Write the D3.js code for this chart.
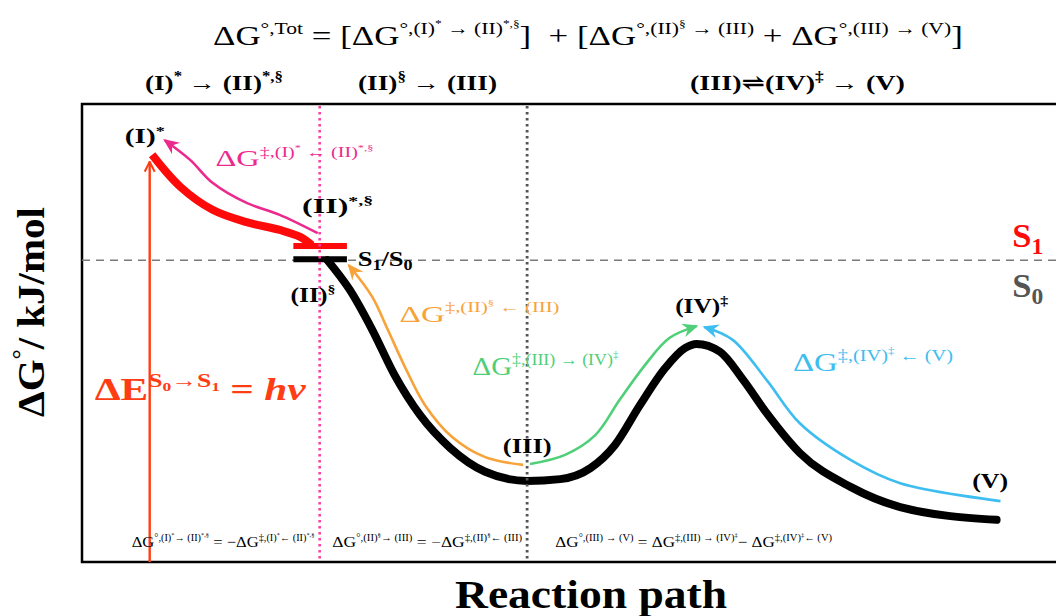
<!DOCTYPE html>
<html>
<head>
<meta charset="utf-8">
<script src="https://cdn.jsdelivr.net/npm/d3@7"></script>
<style>
  html, body { margin: 0; padding: 0; background: #fff; }
  svg text { font-family: "Liberation Serif", "DejaVu Serif", serif; white-space: pre; }
</style>
</head>
<body>
<div id="container"></div>
<script>
// Reaction coordinate (0-100) vs. free energy (arbitrary, 0-100)

// S1 (excited state) branch, from (I)* down to (II)*,§
const s1Curve = [[7.2, 88.9], [10.1, 81.9], [13.4, 76.9], [16.9, 74.2], [20.3, 72.5], [22.4, 71.0], [23.6, 69.2]];

// S0 (ground state) branch, from (II)§ through (III), (IV)‡ to (V)
const s0Curve = [
    [25.2, 65.9], [27.5, 59.4], [29.8, 50.7], [32.1, 40.8], [34.7, 32.1], [37.8, 24.9],
    [41.4, 19.7], [45.7, 17.7], [49.1, 18.1], [52.2, 20.5], [54.7, 25.5], [57.3, 34.3],
    [59.9, 42.4], [61.9, 46.7], [63.1, 47.6], [65.5, 45.9], [67.9, 39.7], [70.3, 32.5],
    [73.7, 23.8], [78.9, 16.4], [84.0, 12.0], [93.9, 9.2]
];

// barrier arrows (start -> tip)
const arrowBackS1 = [[24.2, 71.8], [20.3, 75.8], [16.9, 78.4], [13.4, 82.8], [11.1, 87.8], [8.5, 92.1]];
const arrowBackII = [[45.3, 21.2], [41.4, 22.9], [38.0, 27.3], [35.2, 34.3], [33.2, 42.4], [31.4, 50.7], [29.8, 57.9], [27.4, 64.8]];
const arrowFwdIII = [[46.0, 21.4], [49.6, 23.4], [52.7, 27.7], [55.2, 35.4], [57.8, 43.0], [60.3, 48.9], [63.1, 51.5]];
const arrowBackV = [[94.3, 13.3], [84.0, 17.2], [78.9, 22.3], [73.7, 30.3], [70.3, 39.7], [66.8, 48.5], [63.9, 51.3]];

// crossing point levels
const crossing = { x0: 21.7, x1: 27.2, s1: 69.0, s0: 66.1 };
const s0Level = 65.9;
const stageBounds = [24.4, 45.7];
const excitation = { x: 6.95, from: 0, to: 87.4 };

// text
const topFormula = "ΔG^{°,Tot} = [ΔG^{°,(I)^{*} → (II)^{*,§}}]  + [ΔG^{°,(II)^{§} → (III)} + ΔG^{°,(III) → (V)}]";
const stageTitles = ["(I)^{*} → (II)^{*,§}", "(II)^{§} → (III)", "(III)⇌(IV)^{‡} → (V)"];
const speciesLabels = ["(I)^{*}", "(II)^{*,§}", "S_{1}/S_{0}", "(II)^{§}", "(III)", "(IV)^{‡}", "(V)"];
const barrierLabels = [
    "ΔG^{‡,(I)^{*} ← (II)^{*,§}}",
    "ΔG^{‡,(II)^{§} ← (III)}",
    "ΔG^{‡,(III) → (IV)^{‡}}",
    "ΔG^{‡,(IV)^{‡} ← (V)}"
];
const relationLabels = [
    "ΔG^{°,(I)^{*}→ (II)^{*,§}} = −ΔG^{‡,(I)^{*}← (II)^{*,§}}",
    "ΔG^{°,(II)^{§}→ (III)} = −ΔG^{‡,(II)^{§}← (III)}",
    "ΔG^{°,(III) → (V)} = ΔG^{‡,(III) → (IV)^{‡}}− ΔG^{‡,(IV)^{‡}← (V)}"
];
const excitationLabel = "ΔE^{S_{0}→S_{1}} = ~{hν}";
const stateLabels = ["S_{1}", "S_{0}"];
const xTitle = "Reaction path";
const yTitle = "ΔG^{°}/ kJ/mol";

const width = 1056;
const height = 616;
const frame = { left: 82, top: 104, bottom: 562 };

const x = d3.scaleLinear().domain([0, 100]).range([frame.left, width]);
const y = d3.scaleLinear().domain([0, 100]).range([frame.bottom, frame.top]);

const svg = d3.select("#container").append("svg")
    .attr("width", width)
    .attr("height", height)
    .style("display", "block");

svg.append("rect").attr("width", width).attr("height", height).attr("fill", "#fff");

// ---------------------------------------------------------------------
// Markers
const defs = svg.append("defs");
function barbMarker(id, color) {
    defs.append("marker")
        .attr("id", id)
        .attr("markerUnits", "userSpaceOnUse")
        .attr("viewBox", "0 0 16 14")
        .attr("refX", 14).attr("refY", 7)
        .attr("markerWidth", 16).attr("markerHeight", 14)
        .attr("orient", "auto")
        .append("path")
        .attr("d", "M0,0 L16,7 L0,14 L5,7 Z")
        .attr("fill", color);
}
barbMarker("m-pink", "#ec2a8e");
barbMarker("m-orange", "#f8a23a");
barbMarker("m-green", "#4fcf78");
barbMarker("m-blue", "#3ebdf0");

defs.append("marker")
    .attr("id", "m-exc")
    .attr("markerUnits", "userSpaceOnUse")
    .attr("viewBox", "0 0 12 12")
    .attr("refX", 11).attr("refY", 6)
    .attr("markerWidth", 12).attr("markerHeight", 12)
    .attr("orient", "auto")
    .append("path")
    .attr("d", "M1,1 L11,6 L1,11")
    .attr("fill", "none")
    .attr("stroke", "#ff3d14")
    .attr("stroke-width", 2);

// ---------------------------------------------------------------------
// Frame and guide lines
svg.append("rect")
    .attr("x", frame.left).attr("y", frame.top)
    .attr("width", width + 20 - frame.left).attr("height", frame.bottom - frame.top)
    .attr("fill", "none").attr("stroke", "#000").attr("stroke-width", 2.5);

svg.append("line")
    .attr("x1", x(0)).attr("x2", x(100))
    .attr("y1", y(s0Level)).attr("y2", y(s0Level))
    .attr("stroke", "#7a7a7a").attr("stroke-width", 1.6)
    .attr("stroke-dasharray", "8,6");

const curve = d3.line()
    .x(d => x(d[0]))
    .y(d => y(d[1]))
    .curve(d3.curveCatmullRom.alpha(0.5));

const smooth = d3.line()
    .x(d => x(d[0]))
    .y(d => y(d[1]))
    .curve(d3.curveMonotoneX);

// excitation arrow
svg.append("line")
    .attr("x1", x(excitation.x)).attr("x2", x(excitation.x))
    .attr("y1", y(excitation.from)).attr("y2", y(excitation.to))
    .attr("stroke", "#ff3d14").attr("stroke-width", 2.4)
    .attr("marker-end", "url(#m-exc)");

// energy surfaces
svg.append("path").datum(s1Curve)
    .attr("d", curve).attr("fill", "none")
    .attr("stroke", "#ff0a0a").attr("stroke-width", 8).attr("stroke-linecap", "butt");

svg.append("path").datum(s0Curve)
    .attr("d", smooth).attr("fill", "none")
    .attr("stroke", "#000").attr("stroke-width", 8).attr("stroke-linecap", "round");

// crossing bars
svg.append("line")
    .attr("x1", x(crossing.x0)).attr("x2", x(crossing.x1))
    .attr("y1", y(crossing.s1)).attr("y2", y(crossing.s1))
    .attr("stroke", "#ff0a0a").attr("stroke-width", 6);
svg.append("line")
    .attr("x1", x(crossing.x0)).attr("x2", x(crossing.x1))
    .attr("y1", y(crossing.s0)).attr("y2", y(crossing.s0))
    .attr("stroke", "#000").attr("stroke-width", 6);

// barrier arrows
[
    [arrowBackS1, "#ec2a8e", "m-pink"],
    [arrowBackII, "#f8a23a", "m-orange"],
    [arrowFwdIII, "#4fcf78", "m-green"],
    [arrowBackV, "#3ebdf0", "m-blue"]
].forEach(([pts, color, marker]) => {
    svg.append("path").datum(pts)
        .attr("d", curve).attr("fill", "none")
        .attr("stroke", color).attr("stroke-width", 2.6)
        .attr("marker-end", `url(#${marker})`);
});

// stage boundaries (dotted)
svg.append("line")
    .attr("x1", x(stageBounds[0])).attr("x2", x(stageBounds[0]))
    .attr("y1", frame.top + 2).attr("y2", frame.bottom - 2)
    .attr("stroke", "#ff3fa4").attr("stroke-width", 2.6)
    .attr("stroke-dasharray", "2.6,3.4");
svg.append("line")
    .attr("x1", x(stageBounds[1])).attr("x2", x(stageBounds[1]))
    .attr("y1", frame.top + 2).attr("y2", frame.bottom - 2)
    .attr("stroke", "#555").attr("stroke-width", 2.8)
    .attr("stroke-dasharray", "2.6,3.4");

// ---------------------------------------------------------------------
// Rich text helpers: ^{} superscript, _{} subscript, ~{} italic
function parseRich(str) {
    const out = [];
    let i = 0;
    function run(shift, scale, it) {
        let buf = "";
        const flush = () => { if (buf) { out.push({ text: buf, shift, scale, it }); buf = ""; } };
        while (i < str.length) {
            const c = str[i];
            if (c === "}") { i++; break; }
            if ((c === "^" || c === "_" || c === "~") && str[i + 1] === "{") {
                flush();
                i += 2;
                if (c === "^") run(shift - 0.4 * scale, scale * 0.62, it);
                else if (c === "_") run(shift + 0.2 * scale, scale * 0.68, it);
                else run(shift, scale, true);
            } else { buf += c; i++; }
        }
        flush();
    }
    run(0, 1, false);
    return out;
}

function richText(g, str, size) {
    const t = g.append("text").attr("x", 0).attr("y", 0).attr("font-size", size);
    let cur = 0;
    parseRich(str).forEach(p => {
        const target = p.shift * size;
        t.append("tspan")
            .attr("dy", (target - cur).toFixed(2))
            .attr("font-size", (size * p.scale).toFixed(2))
            .attr("font-style", p.it ? "italic" : null)
            .text(p.text);
        cur = target;
    });
    return t;
}

// place text with its left edge (or centre) at px,py and stretch to target width w
function label(str, px, py, opt) {
    const g = svg.append("g");
    const t = richText(g, str, opt.size)
        .attr("fill", opt.color || "#000")
        .attr("font-weight", opt.bold ? "bold" : null);
    const bb = t.node().getBBox();
    const sx = opt.w ? opt.w / bb.width : 1;
    const w = bb.width * sx;
    const off = opt.anchor === "middle" ? w / 2 : 0;
    if (opt.rotate) {
        g.attr("transform", `translate(${px},${py}) rotate(-90) translate(${-w / 2},0) scale(${sx},1)`);
    } else {
        g.attr("transform", `translate(${px - off},${py}) scale(${sx},1)`);
    }
    return g;
}

// ---------------------------------------------------------------------
// Titles
label(topFormula, 213, 45, { size: 28, w: 750 });
label(stageTitles[0], 145, 90, { size: 22, bold: true, w: 138 });
label(stageTitles[1], 358, 90, { size: 22, bold: true, w: 139 });
label(stageTitles[2], 690, 90, { size: 22, bold: true, w: 215 });

label(xTitle, 591, 608, { size: 40, bold: true, w: 272, anchor: "middle" });
label(yTitle, 44, 312, { size: 37, bold: true, w: 210, rotate: true });

// species
label(speciesLabels[0], x(4.4), y(91.5), { size: 20, bold: true, w: 40 });
label(speciesLabels[1], x(22.6), y(76.2), { size: 20, bold: true, w: 71 });
label(speciesLabels[2], x(28.3), y(64.6), { size: 21, bold: true, w: 55 });
label(speciesLabels[3], x(21.4), y(56.8), { size: 20, bold: true, w: 45 });
label(speciesLabels[4], x(43.2), y(23.8), { size: 20, bold: true, w: 49 });
label(speciesLabels[5], x(60.9), y(54.4), { size: 20, bold: true, w: 53 });
label(speciesLabels[6], x(91.4), y(16.2), { size: 20, bold: true, w: 36 });

label(stateLabels[0], x(95.5), y(68.8), { size: 34, bold: true, w: 31, color: "#ff0a0a" });
label(stateLabels[1], x(95.5), y(57.9), { size: 34, bold: true, w: 31, color: "#555" });

// barriers
label(barrierLabels[0], x(13.7), y(86.5), { size: 23, w: 158, color: "#ec2a8e" });
label(barrierLabels[1], x(32.6), y(52.4), { size: 24, w: 160, color: "#f8a23a" });
label(barrierLabels[2], x(40.1), y(40.8), { size: 26, w: 146, color: "#4fcf78" });
label(barrierLabels[3], x(73.0), y(41.7), { size: 26, w: 160, color: "#3ebdf0" });

label(excitationLabel, x(1.3), y(35.4), { size: 32, bold: true, w: 212, color: "#ff3d14" });

// thermodynamic relations along the bottom
label(relationLabels[0], x(5.1), y(3.3), { size: 15, w: 183 });
label(relationLabels[1], x(25.7), y(3.3), { size: 15, w: 190 });
label(relationLabels[2], x(48.6), y(3.3), { size: 15, w: 277 });
</script>
</body>
</html>
